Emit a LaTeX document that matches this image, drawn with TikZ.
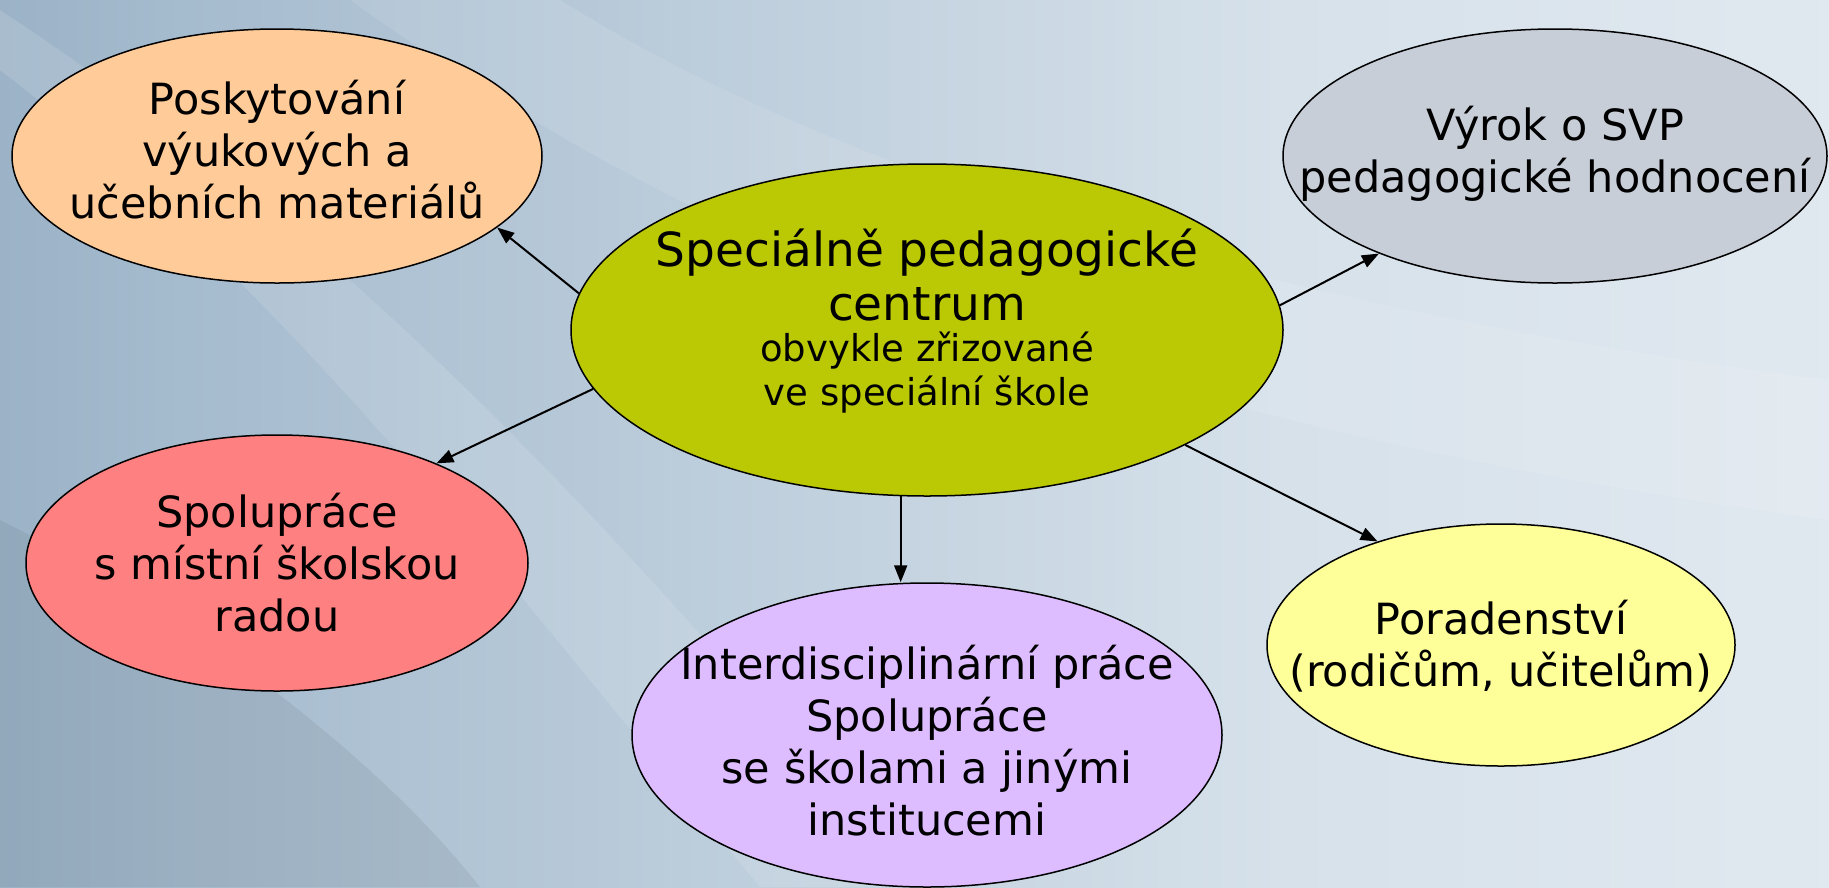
\documentclass[tikz,border=0pt]{standalone}
\usepackage{fontspec}
\setmainfont{DejaVu Sans}
\usetikzlibrary{arrows.meta,shapes.geometric}
\definecolor{bgA}{RGB}{108,138,165}
\definecolor{bgB}{RGB}{165,187,206}
\definecolor{bgC}{RGB}{214,225,234}
\definecolor{bgD}{RGB}{242,245,249}
\definecolor{cOr}{RGB}{255,204,153}
\definecolor{cGr}{RGB}{187,201,5}
\definecolor{cGy}{RGB}{200,206,216}
\definecolor{cRd}{RGB}{255,128,128}
\definecolor{cPu}{RGB}{221,188,255}
\definecolor{cYe}{RGB}{255,255,153}
\pgfdeclarehorizontalshading{bgshade}{100bp}{color(0bp)=(bgA); color(30bp)=(bgB); color(60bp)=(bgC); color(100bp)=(bgD)}
\begin{document}
\begin{tikzpicture}[x=1pt,y=-1pt,
  bub/.style={ellipse,draw=black,line width=1.5pt,inner sep=0pt},
  txt/.style={align=center,inner sep=0pt,font=\fontsize{43}{52}\selectfont},
  arr/.style={line width=2pt,-{Triangle[length=17pt,width=13pt]}}]
\useasboundingbox (0,0) rectangle (1829,887);
\shade[shading=bgshade] (0,0) rectangle (1829,887);
\fill[white,opacity=0.12] (0,70) .. controls (300,300) and (520,600) .. (760,887) -- (920,887) .. controls (640,560) and (380,260) .. (0,10) -- cycle;
\fill[white,opacity=0.10] (350,0) .. controls (700,250) and (1100,420) .. (1829,520) -- (1829,380) .. controls (1200,300) and (800,150) .. (560,0) -- cycle;
\fill[black,opacity=0.06] (0,520) .. controls (200,620) and (380,760) .. (480,887) -- (0,887) -- cycle;

\node[bub,fill=cOr,minimum width=530pt,minimum height=254pt] (o) at (277,156) {};
\node[bub,fill=cGy,minimum width=544pt,minimum height=254pt] (g) at (1555,156) {};
\node[bub,fill=cRd,minimum width=502pt,minimum height=256pt] (r) at (277,563) {};
\node[bub,fill=cPu,minimum width=590pt,minimum height=304pt] (p) at (927,735) {};
\node[bub,fill=cYe,minimum width=468pt,minimum height=242pt] (y) at (1501,645) {};
\node[bub,fill=cGr,minimum width=712pt,minimum height=332pt] (c) at (927,330) {};

\node[txt] (ot) at (277,150) {Poskytování\\výukových a\\učebních materiálů};
\node[txt] (gt) at (1555,154) {Výrok o SVP\\pedagogické hodnocení};
\node[txt] (rt) at (277,563) {Spolupráce\\s místní školskou\\radou};
\node[txt] (pt) at (927,741) {Interdisciplinární práce\\Spolupráce\\se školami a jinými\\institucemi};
\node[txt] (yt) at (1501,646) {Poradenství\\(rodičům, učitelům)};
\node[txt,font=\fontsize{47}{54}\selectfont] (ct) at (927,321)
  {Speciálně pedagogické\\centrum\\[-13pt]
   {\fontsize{37}{44}\selectfont obvykle zřizované}\\[-10pt]
   {\fontsize{37}{44}\selectfont ve speciální škole}};

\draw[arr] (c.174) -- (o.-18.7);
\draw[arr] (c.-170.3) -- (r.32.2);
\draw[arr] (c.-99) -- (c.-99 |- p.north);
\draw[arr] (c.4.7) -- (g.-151.6);
\draw[arr] (c.-24.5) -- (y.140.6);
\end{tikzpicture}
\end{document}
